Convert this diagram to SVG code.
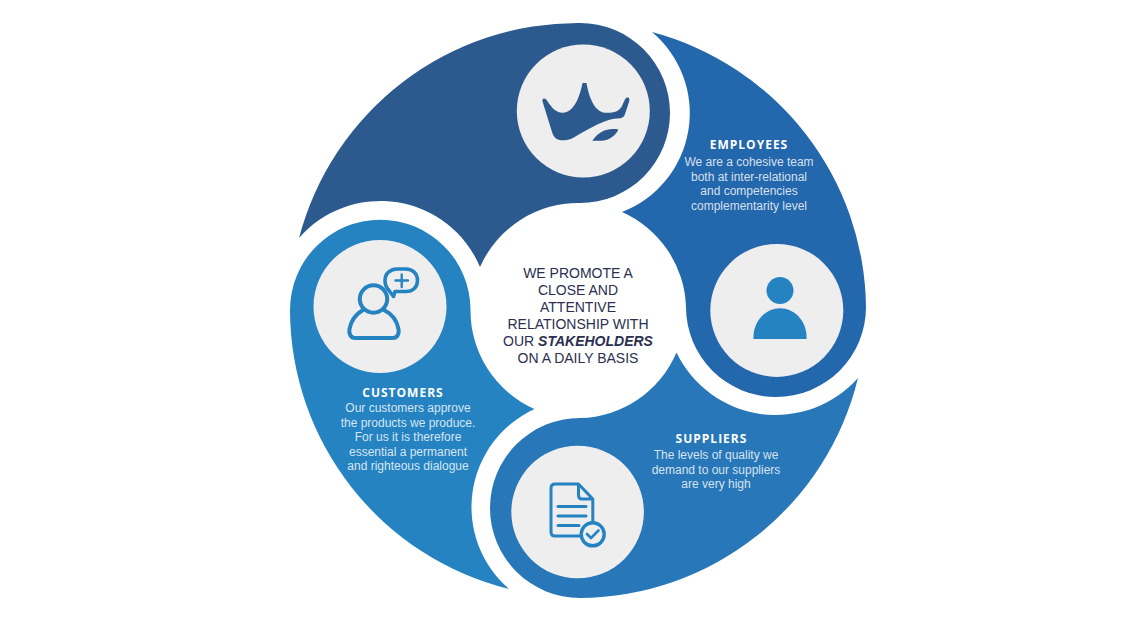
<svg xmlns="http://www.w3.org/2000/svg" width="1140" height="620" viewBox="0 0 1140 620">
<style>
.disc{fill:#eeeeee}
.title{font-family:"Open Sans","Noto Sans",sans-serif;font-weight:700;font-size:12px;letter-spacing:1px;fill:#ffffff;text-anchor:middle}
.body{font-family:"Liberation Sans",Arial,sans-serif;font-size:12px;fill:#ffffff;fill-opacity:.82;text-anchor:middle}
.center{font-family:"Liberation Sans",Arial,sans-serif;font-size:14px;fill:#2b2f50;text-anchor:middle}
.ln{fill:none;stroke:#2583c2;stroke-linecap:round;stroke-linejoin:round}
</style>
<rect width="1140" height="620" fill="#ffffff"/>
<g id="brand">
<path fill="#2c5a8e" d="M299,238 A288,288 0 0 1 580,23 A90,90 0 0 1 580,203 A107.5,107.5 0 0 0 480,267 A108,108 0 0 0 299,238 Z"/>
<circle class="disc" cx="583.3" cy="111" r="66.5"/>
<path fill="#2c5a8e" d="M543,99 C546,97 548,103 551,106 C554,110 558,113 563,112.7 C573,112 579,100 582.5,83 L586.5,83 C589,98 595,112 605,112.7 C613,113 619,112 622,106 C624,102 625,98 627,97.5 C630,97 629.5,100 629,102 L625,114 C624,118 620,118.5 617,118.5 C610,119 602,122 593,126.7 C585,130.5 578,135 573,138 C568,140.5 562,141 558,139.5 C555,138.5 553,135.5 552,132 L543,103 C542.5,101 542,100 543,99 Z"/>
<path fill="#2c5a8e" d="M592.3,140.7 C596,135 602,130 610,129.2 C613,129 616,129 618.3,129.5 C616.5,134 612,138 606,140 C602,141 597,141 592.3,140.7 Z"/>
</g>
<g id="employees">
<path fill="#2367ac" d="M652,32 A288,288 0 0 1 866,307 A90,90 0 0 1 686,307 A107.5,107.5 0 0 0 622,212 A106,106 0 0 0 652,32 Z"/>
<circle class="disc" cx="776.8" cy="310.4" r="66.5"/>
<circle cx="780" cy="290.5" r="13.5" fill="#2583c2"/>
<path fill="#2583c2" d="M753.5,339 C752.5,322 765,308.3 780,308.3 C795,308.3 807.5,322 806.5,339 Z"/>
<text class="title" x="749" y="148.5">EMPLOYEES</text>
<text class="body" x="749" y="166">We are a cohesive team</text>
<text class="body" x="749" y="180.5">both at inter-relational</text>
<text class="body" x="749" y="195">and competencies</text>
<text class="body" x="749" y="209.5">complementarity level</text>
</g>
<g id="customers">
<path fill="#2583c2" d="M290,310 A90,90 0 0 1 470.5,310 A107.5,107.5 0 0 0 534.5,409 A108,108 0 0 0 509,589 A288,288 0 0 1 290,310 Z"/>
<circle class="disc" cx="380" cy="306.5" r="66.5"/>
<circle class="ln" cx="373.5" cy="299" r="13.7" stroke-width="4"/>
<path class="ln" stroke-width="4" d="M363,310 C356,314 351,321 349.5,329 C348.5,334 351,338 355,338 L393,338 C397,338 399.5,334 398.5,329 C397,321 392,314 384,310"/>
<path class="ln" stroke-width="3.6" d="M395,291.5 L393.5,296.5 L389,290.5 C385,286.5 385,283 385,280.5 C385,273 391,269 397,269 L406,269 C413,269 417.5,274 417.5,280.5 C417.5,287 413,291.5 406,291.5 Z"/>
<path class="ln" stroke-width="2.4" d="M395.5,280.5 H408 M401.7,274.5 V287"/>
<text class="title" x="403" y="397">CUSTOMERS</text>
<text class="body" x="408" y="412">Our customers approve</text>
<text class="body" x="408" y="426.5">the products we produce.</text>
<text class="body" x="408" y="441">For us it is therefore</text>
<text class="body" x="408" y="455.5">essential a permanent</text>
<text class="body" x="408" y="470">and righteous dialogue</text>
</g>
<g id="suppliers">
<path fill="#2777b9" d="M858,378 A288,288 0 0 1 580,598 A90,90 0 0 1 580,418 A107.5,107.5 0 0 0 676.5,352.5 A110,110 0 0 0 858,378 Z"/>
<circle class="disc" cx="577.6" cy="512" r="66.3"/>
<path class="ln" stroke-width="3" d="M583,536 L555,536 C552,536 551,534 551,532 L551,488 C551,485 553,484 555,484 L578.5,484 L592.8,499 L592.8,522 M578.5,484 L578.5,495 C578.5,498 580,499 582,499 L592.8,499"/>
<path class="ln" stroke-width="3" d="M558,506.5 H586 M558,516 H586 M558,525.5 H579"/>
<circle cx="592.7" cy="534.3" r="11.5" fill="#eeeeee" stroke="#2583c2" stroke-width="3.4"/>
<path class="ln" stroke-width="2.6" d="M587,534 L591,538 L598.5,530.5"/>
<text class="title" x="711.5" y="442.5">SUPPLIERS</text>
<text class="body" x="716" y="459">The levels of quality we</text>
<text class="body" x="716" y="473.5">demand to our suppliers</text>
<text class="body" x="716" y="488">are very high</text>
</g>
<g id="center">
<text class="center" x="578" y="278">WE PROMOTE A</text>
<text class="center" x="578" y="295">CLOSE AND</text>
<text class="center" x="578" y="312">ATTENTIVE</text>
<text class="center" x="578" y="329">RELATIONSHIP WITH</text>
<text class="center" x="578" y="346">OUR <tspan font-weight="700" font-style="italic">STAKEHOLDERS</tspan></text>
<text class="center" x="578" y="363">ON A DAILY BASIS</text>
</g>
</svg>
